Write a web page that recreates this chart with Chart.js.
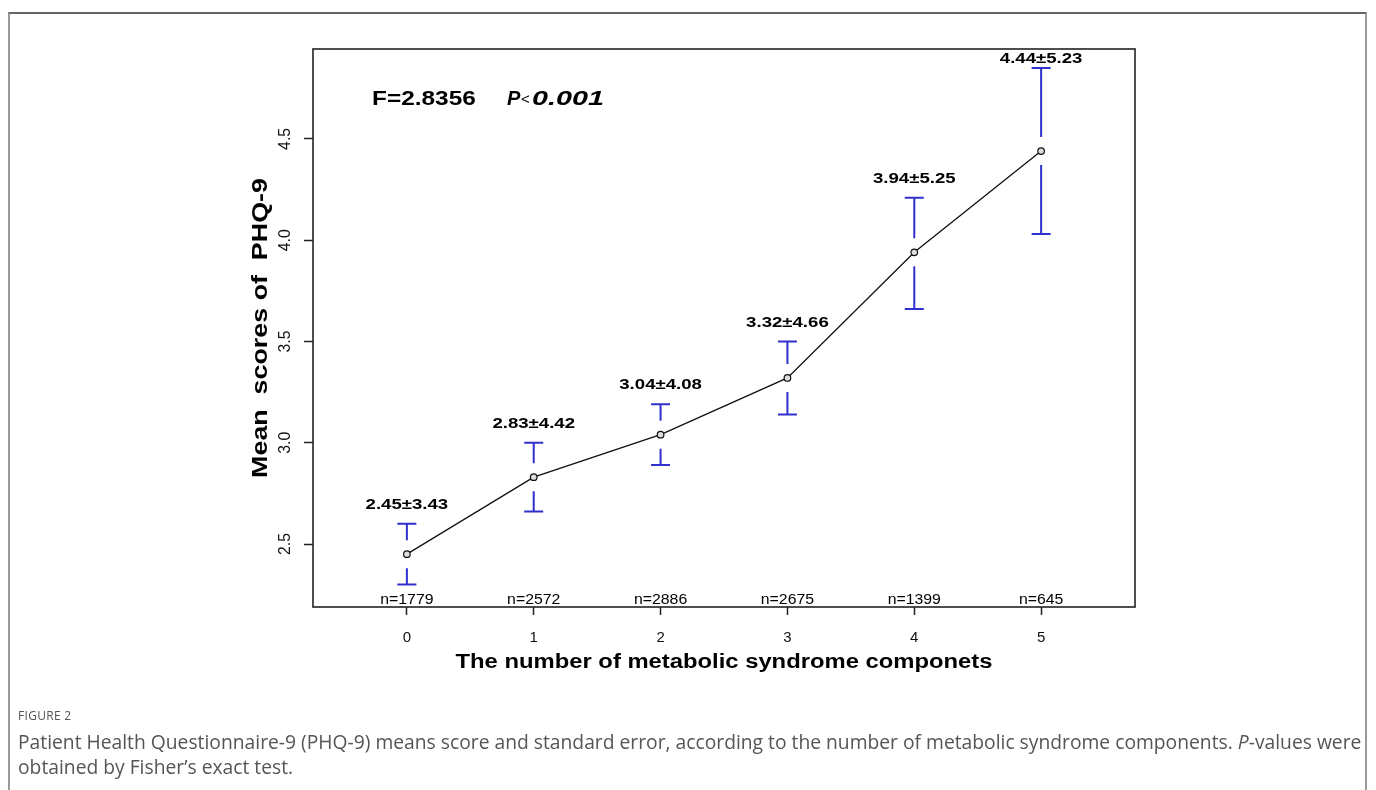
<!DOCTYPE html>
<html>
<head>
<meta charset="utf-8">
<script src="https://cdn.jsdelivr.net/npm/chart.js@4/dist/chart.umd.min.js"></script>
<style>
  html, body { margin: 0; padding: 0; background: #fff; width: 1376px; height: 790px; overflow: hidden; }
  #frame { position: absolute; left: 8px; top: 12px; width: 1359px; height: 820px; border: 2px solid #9a9a9a; border-top-color: #666; box-sizing: border-box; }
  #chartWrap { position: absolute; left: 0; top: 0; width: 1376px; height: 790px; }
  #cap { position: absolute; left: 18px; top: 706px; font-family: "Open Sans", "Noto Sans", sans-serif; color: #555; }
  #figno { font-size: 12px; letter-spacing: 0.3px; color: #555; line-height: 20px; margin-bottom: 3px; }
  #captext { font-size: 17px; line-height: 25px; color: #555; white-space: nowrap; }
</style>
</head>
<body>
<div id="frame"></div>
<div id="chartWrap"><canvas id="c" width="1376" height="790"></canvas></div>
<div id="cap">
  <div id="figno">FIGURE 2</div>
  <div id="captext"><span id="l1">Patient Health Questionnaire-9 (PHQ-9) means score and standard error, according to the number of metabolic syndrome components. <i>P</i>-values were</span><br><span id="l2">obtained by Fisher’s exact test.</span></div>
</div>
<script>
// ---- data ----
const categories = [0, 1, 2, 3, 4, 5];
const means  = [2.45, 2.83, 3.04, 3.32, 3.94, 4.44];
const sds    = [3.43, 4.42, 4.08, 4.66, 5.25, 5.23];
const counts = [1779, 2572, 2886, 2675, 1399, 645];
const ciLow  = [2.30, 2.66, 2.89, 3.14, 3.66, 4.03];
const ciHigh = [2.60, 3.00, 3.19, 3.50, 4.21, 4.85];
const yTicks = [2.5, 3.0, 3.5, 4.0, 4.5];
const yTickLabels = ["2.5", "3.0", "3.5", "4.0", "4.5"];
const xTickLabels = ["0", "1", "2", "3", "4", "5"];
const statF = "F=2.8356";
const statP = "0.001";
const xTitle = "The number of metabolic syndrome componets";
const yTitle = "Mean  scores of  PHQ-9";

// fit caption first line width
(function(){
  const l1 = document.getElementById('l1');
  const w = l1.getBoundingClientRect().width;
  const target = 1344;
  document.getElementById('captext').style.fontSize = (17 * target / w).toFixed(2) + 'px';
})();

const FONT = '"Liberation Sans", Arial, sans-serif';

function sText(ctx, text, x, y, font, sx, align) {
  ctx.save();
  ctx.font = font;
  ctx.translate(x, y);
  ctx.scale(sx, 1);
  ctx.textAlign = align || 'center';
  ctx.textBaseline = 'middle';
  ctx.fillStyle = '#000';
  ctx.fillText(text, 0, 0);
  ctx.restore();
}

const decor = {
  id: 'decor',
  afterDatasetsDraw(chart) {
    const ctx = chart.ctx;
    const xs = chart.scales.x, ys = chart.scales.y;
    const a = chart.chartArea;
    // error bars
    ctx.save();
    ctx.strokeStyle = 'rgb(48,48,205)';
    ctx.lineWidth = 2;
    const gap = 14, cap = 9.5;
    categories.forEach((c, i) => {
      const px = xs.getPixelForValue(c);
      const pm = ys.getPixelForValue(means[i]);
      const ph = ys.getPixelForValue(ciHigh[i]);
      const pl = ys.getPixelForValue(ciLow[i]);
      ctx.beginPath();
      ctx.moveTo(px, pm - gap); ctx.lineTo(px, ph);
      ctx.moveTo(px - cap, ph); ctx.lineTo(px + cap, ph);
      ctx.moveTo(px, pm + gap); ctx.lineTo(px, pl);
      ctx.moveTo(px - cap, pl); ctx.lineTo(px + cap, pl);
      ctx.stroke();
    });
    ctx.restore();
    // value labels
    categories.forEach((c, i) => {
      const px = xs.getPixelForValue(c);
      const ph = ys.getPixelForValue(ciHigh[i]);
      const ly = Math.max(ph - 19, a.top + 10);
      sText(ctx, means[i].toFixed(2) + '\u00B1' + sds[i].toFixed(2), px, ly, 'bold 15px ' + FONT, 1.24);
      sText(ctx, 'n=' + counts[i], px, a.bottom - 7, '14px ' + FONT, 1.13);
    });
    // stats text
    sText(ctx, statF, 372, 99, 'bold 20px ' + FONT, 1.22, 'left');
    sText(ctx, 'P', 507, 99, 'italic bold 20px ' + FONT, 1.0, 'left');
    sText(ctx, '<', 521, 100, '15px ' + FONT, 1.0, 'left');
    ctx.save();
    ctx.font = 'italic bold 20px ' + FONT;
    const wp = ctx.measureText(statP).width;
    ctx.restore();
    sText(ctx, statP, 532, 99, 'italic bold 20px ' + FONT, 72 / wp, 'left');
    // plot box
    ctx.save();
    ctx.strokeStyle = '#222';
    ctx.lineWidth = 1.6;
    ctx.strokeRect(a.left, a.top, a.right - a.left, a.bottom - a.top);
    ctx.restore();
    // y tick labels (rotated, as in R)
    yTicks.forEach((v, i) => {
      const py = ys.getPixelForValue(v);
      ctx.save();
      ctx.translate(285, py);
      ctx.rotate(-Math.PI / 2);
      ctx.scale(1.05, 1.15);
      ctx.font = '15px ' + FONT;
      ctx.textAlign = 'center';
      ctx.textBaseline = 'middle';
      ctx.fillStyle = '#111';
      ctx.fillText(yTickLabels[i], 0, 0);
      ctx.restore();
    });
    // axis titles
    sText(ctx, xTitle, (a.left + a.right) / 2, 662, 'bold 20px ' + FONT, 1.19);
    ctx.save();
    ctx.translate(261, (a.top + a.bottom) / 2);
    ctx.rotate(-Math.PI / 2);
    ctx.scale(1.22, 1);
    ctx.font = 'bold 22px ' + FONT;
    ctx.textAlign = 'center';
    ctx.textBaseline = 'middle';
    ctx.fillStyle = '#000';
    ctx.fillText(yTitle, 0, 0);
    ctx.restore();
  }
};

new Chart(document.getElementById('c'), {
  type: 'line',
  data: {
    datasets: [{
      data: categories.map((c, i) => ({ x: c, y: means[i] })),
      borderColor: '#111',
      borderWidth: 1.3,
      pointRadius: 3.3,
      pointBorderWidth: 1.2,
      pointBackgroundColor: '#ddd',
      pointBorderColor: '#111',
      tension: 0,
      fill: false
    }]
  },
  options: {
    responsive: false,
    animation: false,
    devicePixelRatio: 1,
    layout: { padding: { left: 0, top: 49, right: 241, bottom: 0 } },
    plugins: { legend: { display: false }, tooltip: { enabled: false } },
    scales: {
      x: {
        type: 'linear', min: -0.74, max: 5.74,
        afterBuildTicks: s => { s.ticks = categories.map(v => ({ value: v })); },
        afterFit: s => { s.height = 183; },
        ticks: {
          callback: (v) => xTickLabels[categories.indexOf(v)],
          font: { family: FONT, size: 15 }, color: '#111', padding: 14, maxRotation: 0
        },
        grid: { drawOnChartArea: false, drawTicks: true, tickLength: 8, tickColor: '#222', tickWidth: 1.5 },
        border: { display: false }
      },
      y: {
        type: 'linear', min: 2.189, max: 4.944,
        afterBuildTicks: s => { s.ticks = yTicks.map(v => ({ value: v })); },
        afterFit: s => { s.width = 313; },
        ticks: { display: false },
        grid: { drawOnChartArea: false, drawTicks: true, tickLength: 9, tickColor: '#222', tickWidth: 1.5 },
        border: { display: false }
      }
    }
  },
  plugins: [decor]
});
</script>
</body>
</html>
